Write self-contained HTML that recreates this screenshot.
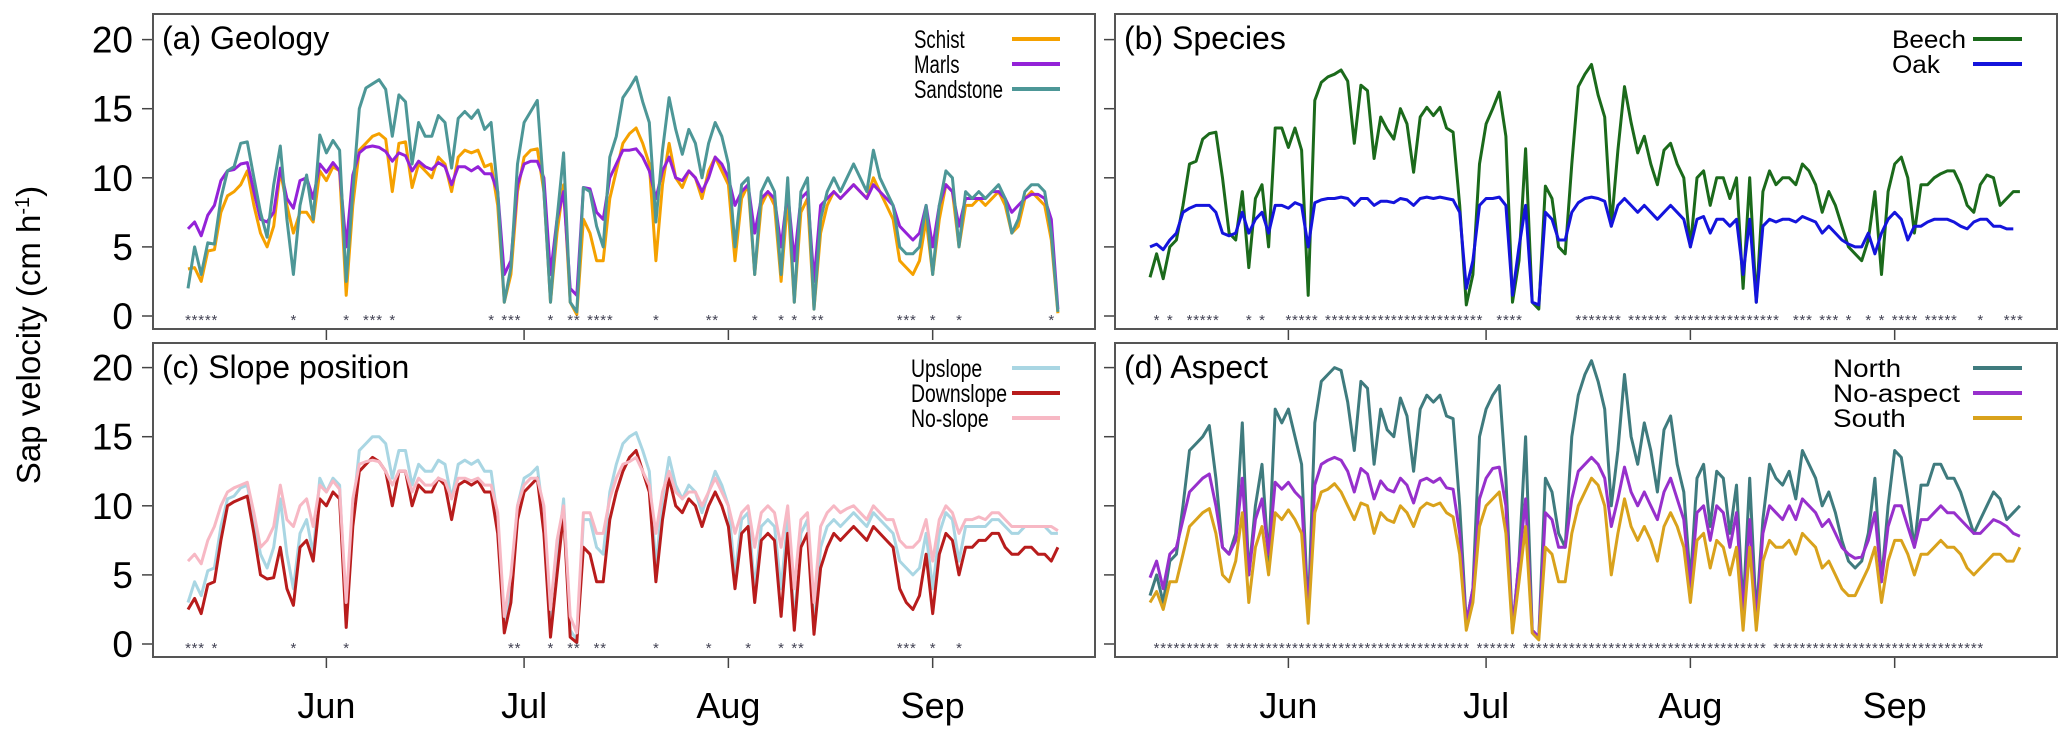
<!DOCTYPE html>
<html><head><meta charset="utf-8"><style>
html,body{margin:0;padding:0;background:#fff;}
svg{display:block;font-family:"Liberation Sans",sans-serif;}
</style></head><body>
<svg id="chart" width="2067" height="735" viewBox="0 0 2067 735" xmlns="http://www.w3.org/2000/svg">
<text x="0" y="0" transform="translate(40,335) rotate(-90)" text-anchor="middle" font-size="33" fill="#000">Sap velocity (cm h<tspan baseline-shift="super" font-size="20">-1</tspan>)</text>
</svg>
<script>
// ---------- data ----------
const yTicks = [0,5,10,15,20];
const monthLabels = ["Jun","Jul","Aug","Sep"];
const monthDayIndex = [21,51,82,113]; // day index (from May 10) of month starts

const schist = [3.4,3.5,2.5,4.7,4.8,7.5,8.7,9,9.5,10.5,8,6,5,6.5,10.5,8,6,7.5,7.5,6.8,10.5,9.8,10.8,10.5,1.5,8,12,12.5,13,13.2,12.8,9,12.5,12.6,9.3,11,10.5,10,11.5,11,9,11.5,12,11.8,12,10.8,11,8,1,3,9,11.5,12,12.1,9,1,6,9.5,1,0.1,7,6,4,4,8.5,10.5,12.5,13.2,13.6,12.5,11,4,9.5,12.5,10,9.3,10.5,10,8.5,10.5,11.5,10.5,9.5,4,8.5,9.5,3,8,9,8,2.5,8.5,1,7.5,8.5,0.5,6,8,9,8.5,9,9.5,9,8.5,10,9,8,7,4,3.5,3,4,7,3,7,9.5,9,5,8,8,8.5,8,8.5,9,8,6,6.5,8.5,9,8.5,8,5.5,0.2];
const marls = [6.3,6.8,5.8,7.3,8,9.8,10.5,10.6,11,11.1,9,7,6.8,7.5,10.7,8.5,7.8,9.8,10,8.5,11,10.4,11.1,10.5,5,10.2,11.8,12.2,12.3,12.2,11.9,11.2,11.8,11.6,10.5,11.2,10.8,10.6,11.1,10.8,9.5,10.8,10.8,10.5,10.8,10.3,10.3,9,3,4,9.5,11,11.2,11.2,10,3,7,9,2,1.5,9.3,9.2,7.5,7,10,11,12,12,12.1,11.5,10.5,8.5,10.5,11.5,10,9.8,10.5,10,9,10,11.5,11,10,8,9,9.5,6,8.5,9,8.5,5,9,4,8.5,9,2.5,8,8.5,9,8.5,9,9.5,9,8.5,9.5,9,8.5,8,6.5,6,5.5,6,8,5,8,9.5,9,6.5,8.5,8.5,8.5,8.5,9,9,8.5,7.5,8,8.5,8.8,8.8,8.5,7,0.5];
const sandstone = [2,5,3,5.3,5.2,8.5,10.5,10.8,12.5,12.6,10,7.5,5.7,9.5,12.3,7,3,8,10.2,7,13.1,11.8,12.7,12,2.5,9,15,16.5,16.8,17.1,16.4,13,16,15.5,11,14,13,13,14.5,14,10.7,14.3,14.8,14.3,14.9,13.5,14,9,1,3.5,11,14,14.8,15.6,9,1,7,11.8,1,0.3,9.3,9,6.5,5,11.5,13,15.8,16.5,17.3,15.5,14,6.8,12,15.8,13.5,11.7,13.5,12.5,10,12.5,14,13,11,5,9.5,10,3,9,10,9,3,10,1,9,10,0.5,7,9,10,9,10,11,10,9,12,10,9,8,5,4.5,4.5,5,8,3,8,10.5,10,5,9,8.5,9,8.5,9,9.5,8.5,6,7,9,9.5,9.5,9,6,0.3];

const beech = [2.8,4.5,2.7,5,5.5,8,11,11.2,12.8,13.2,13.3,10,6,5.5,9,3.5,8.5,9.5,5,13.6,13.6,12.2,13.6,12,1.5,15.6,16.9,17.3,17.5,17.8,17,12.5,16.7,16.3,11.4,14.4,13.5,12.8,15,13.9,10.4,14.4,15.1,14.5,15.1,13.6,13.3,8,0.8,3,11,13.9,15,16.2,13,1,4,12.1,1,0.5,9.4,8.5,5,4.5,11,16.6,17.5,18.2,16,14.4,6.5,12,16.6,14,11.8,13,11,9.5,12,12.5,11,10,5,10,10.5,8,10,10,8.5,10,2,10,1,9,10.5,9.5,10,10,9.5,11,10.5,9.5,7.5,9,8,6.5,5,4.5,4,5.5,9,3,9,11,11.5,10,6,9.5,9.5,10,10.3,10.5,10.5,9.5,8,7.5,9.5,10.2,10,8,8.5,9,9];
const oak = [5,5.2,4.8,5.5,6,7.5,7.8,8,8,8,7.5,6,5.8,6,7.5,6,7,7.5,6,8,8,7.8,8.2,8,5,8.2,8.4,8.5,8.5,8.6,8.5,8,8.5,8.5,8,8.3,8.3,8.2,8.5,8.4,8,8.5,8.6,8.5,8.6,8.5,8.4,7.5,2,4,8,8.5,8.5,8.6,8,1.5,5,8,1,0.8,7.5,7,5.5,5.5,7.5,8.2,8.5,8.6,8.5,8.3,6.5,8,8.5,8,7.5,8,7.5,7,7.5,8,7.5,7,5,7,7.2,6,7,7,6.5,7,3,7,1,6.5,7,6.8,7,7,6.8,7.2,7,6.8,6,6.5,6,5.5,5.2,5,5,6,4.5,6,7,7.5,7,5.5,6.5,6.5,6.8,7,7,7,6.8,6.5,6.3,6.8,7,7,6.5,6.5,6.3,6.3];

const upslope = [3,4.5,3.5,5.3,5.5,8.5,10.5,10.7,11.3,11.5,9,6.5,5.5,7,10.5,6.5,4,8,9,6.5,12,11,12,11.5,2,9.5,14,14.5,15,15,14.5,12,14,14,11.5,13,12.5,12.5,13.3,13,10.5,13,13.3,13,13.3,12.5,12.5,9,1.5,4,10,12,12.3,12.8,9,1,6,10.5,1,0.3,9,9,7,6.5,11,13,14.5,15,15.3,14,12.5,5.5,10.5,13.5,11.5,10.5,11.5,11,9.5,11,12.5,11.5,10,5,9,9.5,4,8.5,9,8.5,4,9,1.5,8,9,1,7,8.5,9,8.5,9,9.5,9,8.5,9.5,9,8.5,8,6,5.5,5,5.5,8,4,8,9.5,9,6,8.5,8.5,8.5,8.5,9,9,8.5,8,8,8.5,8.5,8.5,8.5,8,8];
const downslope = [2.5,3.3,2.2,4.3,4.5,7.5,10,10.3,10.5,10.7,8,5,4.7,4.8,7,4,2.8,7,7.5,6,10.5,10,11,10.5,1.2,8.5,12.5,13,13.5,13.2,12.5,10,12.5,12.5,10,11.5,11,11,12,11.5,9,11.5,11.8,11.5,11.8,11,11,8,0.8,3,9,11,11.5,12,8,0.5,5,9.5,0.5,0.1,7,6.5,4.5,4.5,9,11,12.5,13.5,14,12.5,11,4.5,9,12,10,9.5,10.5,10,8.5,10,11,10,8.5,4,8,8.5,3,7.5,8,7.5,2,8,1,7,8,0.7,5.5,7,8,7.5,8,8.5,8,7.5,8.5,8,7.5,7,4,3,2.5,3.5,6.5,2.2,6.5,8,7.5,5,7,7,7.5,7.5,8,8,7,6.5,6.5,7,7,6.5,6.5,6,7];
const noslope = [6,6.5,5.8,7.5,8.5,10,11,11.3,11.5,11.7,9.5,7,7.5,8.5,11.5,9,8.5,10,10.5,8.5,11.5,11,11.8,11.2,3,10.5,13,13.2,13.3,13.2,12.5,11.5,12.5,12.5,11,12,11.5,11.5,12,11.8,10.5,12,12,11.8,12,11.5,11.5,9.5,2,5,10,11.5,12,12,10,2.5,7.5,10,2,0.8,9.5,9.5,8,8,10.5,12,13,13.2,13.5,12.5,11.5,8,11,12.5,11,10.5,11,11,10,11,12,11,10,8,9.5,10,7,9.5,10,9.5,7,10,4,9,9.5,3,8.5,9.5,10,9.5,9.8,10,9.5,9,10,9.5,9,9,7.5,7,7,7.5,9,6,9,10,9.5,8,9,9,9.2,9,9.5,9.5,9,8.5,8.5,8.5,8.5,8.5,8.5,8.5,8.2];

const north = [3.5,5,3,6,6.5,10,14,14.5,15,15.8,12,7,6.5,8,16,5,10,13,6,17,16,17,15,13,2,16,19,19.5,20,19.8,17.5,14,19,18.5,13,17,15.5,15,17.8,16.5,12.5,17,18,17.5,18,16.5,16.3,10,1.5,4,15,17,18,18.7,12,1,6,15,1,0.5,12,11,8,7,15,18,19.5,20.5,19,17,10,14,19.5,15,13,16,14,11,15.5,16.5,13,11,4.5,12,13,8.5,12.5,12,8,11.5,2.5,12,2,9,13,12,11.5,12.5,10.5,14,13,12,10,11,9.5,7.5,6,5.5,6,8,12,4.5,10,14,13.5,10.5,7,11.5,11.5,13,13,12,12,11,9.5,8,9,10,11,10.5,9,9.5,10];
const noaspect = [4.8,6,4,6.5,7,9,11,11.5,12,12.3,10,7,6.5,7.5,12,5,9,10.5,6.5,11.7,11.2,11.7,11,10.5,2,11.5,13,13.3,13.5,13.3,12.5,11,12.7,12.3,10.5,11.8,11.2,11,12,11.5,10.2,11.8,12,11.7,12,11.3,11.2,8,1.5,4,10.5,12,12.7,12.8,10,1,6,10.5,1,0.5,9.5,9,7,7,10.5,12.5,13,13.5,13,12,8.5,10.5,12.8,11,10,11,10,9,11,12,10.5,9,4,9.5,10,7.5,10,9.5,7,9.5,2,9,1.5,8,10,9.5,9,10,9,10.5,10,9.5,8.5,9,8,7,6.5,6.2,6.3,7.5,9.5,4.5,8.5,10,10,8.5,7,9,9,9.5,10,9.5,9.5,9,8.5,8,8,8.5,9,8.8,8.5,8,7.8];
const south = [3,3.8,2.5,4.5,4.5,6.5,8.5,9,9.5,9.8,8,5,4.5,6,9.5,3,7,8.5,5,9.5,9,9.7,9,8,1.5,9.5,11,11.2,11.6,11,10,9,10.2,10,8,9.5,9,8.8,10,9.5,8.5,9.8,10.2,10,10.2,9.5,9.2,6.5,1,3,8.5,10,10.5,11,8,0.8,4.5,8.5,0.8,0.3,7,6.5,4.5,4.5,8,10,11,12,11.5,10,5,8,10.5,8.5,7.5,8.5,7.5,6,8.5,9.5,8.5,7,3,7.5,8,5.5,7.5,7,5,7,1,7,1,6,7.5,7,7,7.5,6.5,8,7.5,7,5.5,6,5,4,3.5,3.5,4.5,5.5,7,3,6,7.5,7.5,6.5,5,6.5,6.5,7,7.5,7,7,6.5,5.5,5,5.5,6,6.5,6.5,6,6,7];

const starsA = [0,1,2,3,4,16,24,27,28,29,31,46,48,49,50,55,58,59,61,62,63,64,71,79,80,86,90,92,95,96,108,109,110,113,117,131];
const starsB = [1,3,6,7,8,9,10,15,17,21,22,23,24,25,27,28,29,30,31,32,33,34,35,36,37,38,39,40,41,42,43,44,45,46,47,48,49,50,53,54,55,56,65,66,67,68,69,70,71,73,74,75,76,77,78,80,81,82,83,84,85,86,87,88,89,90,91,92,93,94,95,98,99,100,102,103,104,106,109,111,113,114,115,116,118,119,120,121,122,126,130,131,132];
const starsC = [0,1,2,4,16,24,49,50,55,58,59,62,63,71,79,85,90,92,93,108,109,110,113,117];
const starsD = [1,2,3,4,5,6,7,8,9,10,12,13,14,15,16,17,18,19,20,21,22,23,24,25,26,27,28,29,30,31,32,33,34,35,36,37,38,39,40,41,42,43,44,45,46,47,48,50,51,52,53,54,55,57,58,59,60,61,62,63,64,65,66,67,68,69,70,71,72,73,74,75,76,77,78,79,80,81,82,83,84,85,86,87,88,89,90,91,92,93,95,96,97,98,99,100,101,102,103,104,105,106,107,108,109,110,111,112,113,114,115,116,117,118,119,120,121,122,123,124,125,126];

// ---------- drawing ----------
const svg = document.getElementById('chart');
const NS = 'http://www.w3.org/2000/svg';
function mk(tag, attrs){ const e=document.createElementNS(NS,tag); for(const k in attrs) e.setAttribute(k,attrs[k]); svg.appendChild(e); return e; }

const panels = [
  {id:'a', title:'(a) Geology', left:153, right:1095, top:14, bottom:329, y0:316, x0:188, yLabels:true, stars:starsA, legX:914, legLine:[1012,1060], refLabel:'Sandstone', refWidth:89,
   series:[{name:'Schist',data:schist,color:'#f5a100'},{name:'Marls',data:marls,color:'#9422d8'},{name:'Sandstone',data:sandstone,color:'#4d9797'}]},
  {id:'b', title:'(b) Species', left:1115, right:2057, top:14, bottom:329, y0:316, x0:1150, yLabels:false, stars:starsB, legX:1892, legLine:[1973,2022], refLabel:'Beech', refWidth:74,
   series:[{name:'Beech',data:beech,color:'#1b6a1b'},{name:'Oak',data:oak,color:'#1414dc'}]},
  {id:'c', title:'(c) Slope position', left:153, right:1095, top:343, bottom:657, y0:644, x0:188, yLabels:true, stars:starsC, legX:911, legLine:[1012,1060], refLabel:'Downslope', refWidth:96,
   series:[{name:'Upslope',data:upslope,color:'#a9d6e3'},{name:'Downslope',data:downslope,color:'#b81c1c'},{name:'No-slope',data:noslope,color:'#f7b8c4'}]},
  {id:'d', title:'(d) Aspect', left:1115, right:2057, top:343, bottom:657, y0:644, x0:1150, yLabels:false, stars:starsD, legX:1833, legLine:[1973,2022], refLabel:'No-aspect', refWidth:127,
   series:[{name:'North',data:north,color:'#3f7b7e'},{name:'No-aspect',data:noaspect,color:'#9730cc'},{name:'South',data:south,color:'#d9a21c'}]}
];
const PX_PER_UNIT = 13.82, PX_PER_DAY = 6.59;

panels.forEach(p=>{
  const xs = d => p.x0 + d*PX_PER_DAY;
  const ys = v => p.y0 - v*PX_PER_UNIT;
  yTicks.forEach(t=>{
    const tk = mk('line',{x1:p.left-11,x2:p.left,y1:ys(t),y2:ys(t),stroke:'#444','stroke-width':1.5});
    
    
    if(p.yLabels){
      const tl = mk('text',{x:p.left-20,y:ys(t)+13,'text-anchor':'end','font-size':37,fill:'#000'});
      tl.textContent = t;
      
      
    }
  });
  monthDayIndex.forEach((md,i)=>{
    const x = xs(md);
    const tk = mk('line',{x1:x,x2:x,y1:p.bottom,y2:p.bottom+11,stroke:'#444','stroke-width':1.5});
    
    
    if(p.id==='c'||p.id==='d'){
      const tl = mk('text',{x:x,y:718,'text-anchor':'middle','font-size':36,fill:'#000'});
      tl.textContent = monthLabels[i];
      
      
    }
  });
  p.series.forEach(s=>{
    const pts = s.data.map((v,i)=>xs(i).toFixed(1)+','+ys(v).toFixed(1)).join(' ');
    const pl = mk('polyline',{points:pts,fill:'none',stroke:s.color,'stroke-width':3,'stroke-linejoin':'round'});
    
    
  });
  p.stars.forEach(d=>{
    const st = mk('text',{x:xs(d),y:p.y0+9,'text-anchor':'middle','font-size':15,fill:'#445'});
    st.textContent='*';
    
    
  });
  const fr = mk('rect',{x:p.left,y:p.top,width:p.right-p.left,height:p.bottom-p.top,fill:'none',stroke:'#555','stroke-width':2});
  
  
  const tt = mk('text',{x:p.left+9,y:p.top+35,'font-size':32,fill:'#000'});
  tt.textContent = p.title;
  
  
  // legend: scale factor from reference label width
  const probe = mk('text',{x:0,y:-50,'font-size':25});
  probe.textContent = p.refLabel;
  const factor = p.refWidth / probe.getComputedTextLength();
  probe.remove();
  p.series.forEach((s,i)=>{
    const ly = p.top + 25 + i*25;
    const lt = mk('text',{x:p.legX,y:ly+9,'font-size':25,fill:'#000'});
    lt.textContent = s.name;
    
    
    const w = lt.getComputedTextLength()*factor;
    lt.setAttribute('textLength', w.toFixed(1));
    lt.setAttribute('lengthAdjust', 'spacingAndGlyphs');
    const ll = mk('line',{x1:p.legLine[0],x2:p.legLine[1],y1:ly,y2:ly,stroke:s.color,'stroke-width':4});
    
    
  });
});
</script>
</body></html>
